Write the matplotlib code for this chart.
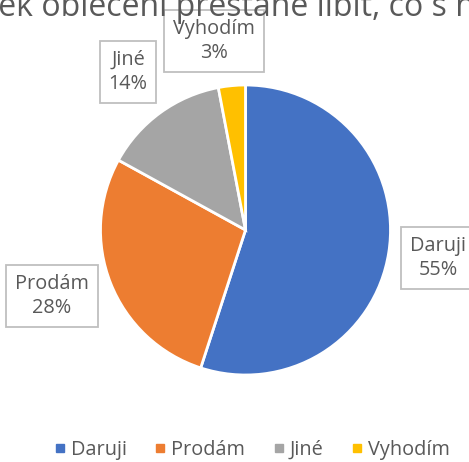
import matplotlib.pyplot as plt
from matplotlib.lines import Line2D

plt.rcParams['font.family'] = ['Open Sans', 'DejaVu Sans']

title = "Když se mi kousek oblečení přestane líbit, co s ním udělám?"
labels = ["Daruji", "Prodám", "Jiné", "Vyhodím"]
shares = [55, 28, 14, 3]
colors = ["#4472C4", "#ED7D31", "#A5A5A5", "#FFC000"]
# label box centres in pixels (x, y from top)
label_pos = [(438, 258), (52, 296), (128, 72), (214, 41)]

W, H = 469, 462
fig = plt.figure(figsize=(W / 100, H / 100), dpi=100)
ax = fig.add_axes([0, 0, 1, 1])

ax.pie(shares, colors=colors, startangle=90, counterclock=False,
       radius=145, center=(245.5, H - 230), frame=True,
       wedgeprops=dict(edgecolor='white', linewidth=2))
ax.set_xlim(0, W)
ax.set_ylim(0, H)
ax.set_aspect('equal')
ax.axis('off')

for lab, val, (x, y) in zip(labels, shares, label_pos):
    ax.text(x, H - y, f"{lab}\n{val}%", ha='center', va='center',
            fontsize=14.3, color='#595959', linespacing=1.3,
            bbox=dict(boxstyle='square,pad=0.45', fc='white', ec='#BFBFBF', lw=1.3))

# title is wider than the figure, only the middle part shows
tsize = 23
t = fig.text(0, 0, title, fontsize=tsize, color='#595959', ha='left', va='baseline')
r = fig.canvas.get_renderer()
pre = fig.text(0, 0, "Když se mi kous", fontsize=tsize)
off = pre.get_window_extent(r).width
pre.remove()
t.set_position((-(off + 2) / W, 1 - 15.5 / H))

handles = [Line2D([], [], marker='s', ls='', color=c, markersize=6) for c in colors]
fig.legend(handles, labels, loc='center', bbox_to_anchor=(0.535, 1 - 450 / H), ncol=4,
           frameon=False, fontsize=14.3, labelcolor='#595959', handletextpad=0.15,
           columnspacing=1.3, handlelength=0.8)

fig.savefig('out.png', dpi=100)
